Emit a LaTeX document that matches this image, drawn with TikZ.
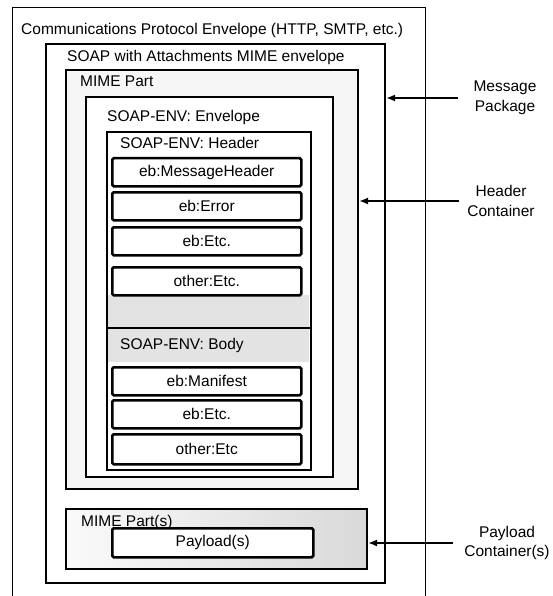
\documentclass[tikz,border=0pt]{standalone}
\usepackage{fontspec}
\setmainfont{Liberation Sans}
\usetikzlibrary{arrows.meta}
\tikzset{
    frame/.style={draw, line width=2pt, anchor=north west, inner sep=0pt},
    item/.style={draw, line width=2.5pt, rounded corners=1.5pt, anchor=north west,
        minimum width=189pt, minimum height=28pt, inner sep=0pt, fill=white},
    caption/.style={anchor=base west, inner sep=0pt},
    note/.style={align=center, inner xsep=8pt, inner ysep=0pt},
    arr/.style={line width=1.8pt, -{Latex[length=9pt,width=7pt]}}
}
\begin{document}
\begin{tikzpicture}[x=1pt, y=-1pt, font=\fontsize{15.5}{19.5}\selectfont]
        \useasboundingbox (0,0) rectangle (553,596);
        % outer protocol envelope, open at the bottom
        \draw[line width=1pt] (12,596) |- (425,8) -- (425,596);
        \node[caption] (ttlproto) at (21,35) {Communications Protocol Envelope (HTTP, SMTP, etc.)};
        % soap with attachments
        \node[frame, fill=white, minimum width=339pt, minimum height=539pt] (soap) at (45,43) {};
        \node[caption] (ttlsoap) at (67,62) {SOAP with Attachments MIME envelope};
        % first mime part
        \node[frame, fill=gray!7, minimum width=292pt, minimum height=419pt] (mimepart) at (65,69) {};
        \node[caption] (ttlmime) at (80,87) {MIME Part};
        \node[frame, line width=2.3pt, fill=white, minimum width=247pt, minimum height=380pt] (env) at (85,96) {};
        \node[caption] (ttlenv) at (107,122) {SOAP-ENV: Envelope};
        % grey band round the header / body divider
        \fill[gray!22] (107,295) rectangle (309,362);
        \node[frame, line width=1.6pt, minimum width=204pt, minimum height=196pt] (hdr) at (106,131) {};
        \node[caption] (ttlhdr) at (120,149) {SOAP-ENV: Header};
        \node[frame, line width=1.6pt, minimum width=204pt, minimum height=142pt] (body) at (106,327) {};
        \node[caption] (ttlbody) at (120,349) {SOAP-ENV: Body};
        % header entries
        \node[item] (msghdr) at (111,157) {eb:MessageHeader};
        \node[item] (error) at (111,191) {eb:Error};
        \node[item] (hdretc) at (111,226) {eb:Etc.};
        \node[item] (hdrother) at (111,266) {other:Etc.};
        % body entries
        \node[item] (manifest) at (111,366) {eb:Manifest};
        \node[item] (bodyetc) at (111,399) {eb:Etc.};
        \node[item, minimum height=30pt] (bodyother) at (111,433) {other:Etc};
        % payload mime parts
        \node[frame, left color=gray!4, right color=gray!30, minimum width=301pt, minimum height=60pt] (mimeparts) at (65,508) {};
        \node[caption] (ttlparts) at (81,526) {MIME Part(s)};
        \node[item, minimum width=201pt, minimum height=29pt] (payload) at (111,527) {Payload(s)};
        % labels on the right
        \node[note, inner xsep=15pt] (msgpkg) at (505,98) {Message\\Package};
        \node[note] (hdrcont) at (501,201) {Header\\Container};
        \node[note, inner xsep=11pt] (paycont) at (507,543) {Payload\\Container(s)};
        \draw[arr] (msgpkg.west) -- (msgpkg.west -| soap.east);
        \draw[arr] (hdrcont.west) -- (hdrcont.west -| mimepart.east);
        \draw[arr] (paycont.west) -- (paycont.west -| mimeparts.east);
    \end{tikzpicture}
\end{document}
